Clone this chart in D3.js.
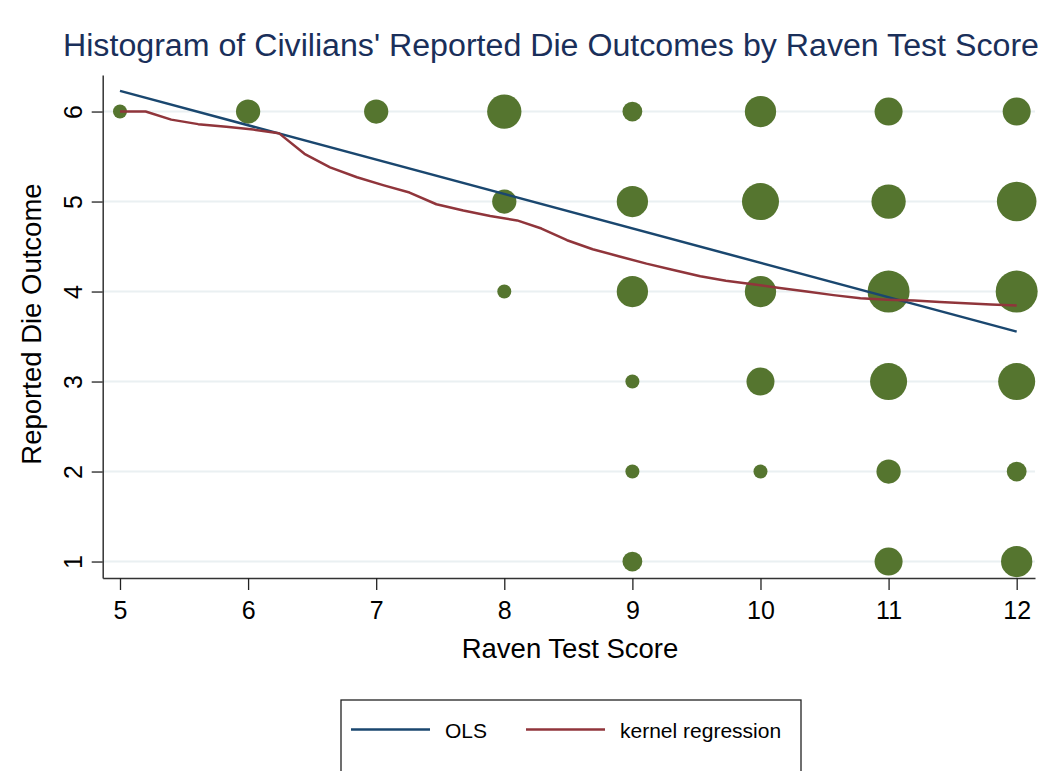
<!DOCTYPE html>
<html>
<head>
<meta charset="utf-8">
<script src="https://cdn.jsdelivr.net/npm/d3@7"></script>
<style>
  html, body { margin: 0; padding: 0; background: #ffffff; }
  svg { display: block; font-family: "Liberation Sans", Arial, sans-serif; }
</style>
</head>
<body>
<svg id="chart" width="1055" height="771"></svg>
<script>
// ---- Data ----
const ravenScores = [5, 6, 7, 8, 9, 10, 11, 12];
const dieOutcomes = [1, 2, 3, 4, 5, 6];
// frequency of each (raven score, die outcome) pair
const pointX = [5, 6, 7, 8, 9, 10, 11, 12,  8, 9, 10, 11, 12,  8, 9, 10, 11, 12,  9, 10, 11, 12,  9, 10, 11, 12,  9, 11, 12];
const pointY = [6, 6, 6, 6, 6, 6,  6,  6,   5, 5, 5,  5,  5,   4, 4, 4,  4,  4,   3, 3,  3,  3,   2, 2,  2,  2,   1, 1,  1];
const pointN = [1, 3, 3, 6, 2, 5,  4,  4,   3, 5, 7,  6,  8,   1, 5, 5,  9,  9,   1, 4,  7,  7,   1, 1,  3,  2,   2, 4,  5];
// OLS fitted line endpoints
const olsX = [5, 12];
const olsY = [6.23, 3.555];
// kernel regression curve
const kernX = [5.00, 5.20, 5.40, 5.61, 5.83, 6.04, 6.24, 6.44, 6.64, 6.85, 7.06, 7.26, 7.47, 7.68, 7.89, 8.10, 8.29, 8.49, 8.69, 8.90, 9.11, 9.32, 9.53, 9.73, 9.94, 10.15, 10.36, 10.57, 10.78, 10.99, 11.20, 11.40, 11.60, 11.80, 12.00];
const kernY = [6.00, 6.00, 5.91, 5.86, 5.83, 5.80, 5.76, 5.53, 5.38, 5.27, 5.18, 5.10, 4.97, 4.90, 4.84, 4.79, 4.70, 4.57, 4.47, 4.39, 4.31, 4.24, 4.17, 4.12, 4.08, 4.04, 4.00, 3.96, 3.925, 3.91, 3.90, 3.885, 3.87, 3.855, 3.845];
const xTicks = [5, 6, 7, 8, 9, 10, 11, 12];
const yTicks = [1, 2, 3, 4, 5, 6];
const titleText = "Histogram of Civilians' Reported Die Outcomes by Raven Test Score";
const xTitle = "Raven Test Score";
const yTitle = "Reported Die Outcome";
const legendLabels = ["OLS", "kernel regression"];

// ---- Styles ----
const cBlue = "#1a476f", cRed = "#90353b", cGreen = "#55752f", cGrid = "#eaf0f2", cTitle = "#1a2f5a";

const svg = d3.select("#chart");
const L = 102.7, R = 1035, T = 75, B = 578;

const x = d3.scaleLinear().domain([4.865, 12.143]).range([L, R]);
const y = d3.scaleLinear().domain([0.817, 6.406]).range([B, T]);
const r = d3.scaleSqrt().domain([0, 9]).range([0, 21]);

// grid
svg.append("g").selectAll("line").data(yTicks).join("line")
  .attr("x1", L).attr("x2", R)
  .attr("y1", d => y(d)).attr("y2", d => y(d))
  .attr("stroke", cGrid).attr("stroke-width", 2);

// points
const pts = pointX.map((v, i) => ({x: v, y: pointY[i], n: pointN[i]}));
svg.append("g").selectAll("circle").data(pts).join("circle")
  .attr("cx", d => x(d.x)).attr("cy", d => y(d.y)).attr("r", d => r(d.n))
  .attr("fill", cGreen);

// OLS line
const line = d3.line().x(d => x(d[0])).y(d => y(d[1]));
svg.append("path").datum(olsX.map((v, i) => [v, olsY[i]]))
  .attr("d", line).attr("fill", "none").attr("stroke", cBlue).attr("stroke-width", 2.5);
// kernel line
svg.append("path").datum(kernX.map((v, i) => [v, kernY[i]]))
  .attr("d", line).attr("fill", "none").attr("stroke", cRed).attr("stroke-width", 2.5)
  .attr("stroke-linejoin", "round");

// axes
const xAxis = svg.append("g").attr("transform", `translate(0,${B})`)
  .call(d3.axisBottom(x).tickValues(xTicks).tickSize(12).tickSizeOuter(0).tickPadding(11).tickFormat(d3.format("d")));
const yAxis = svg.append("g").attr("transform", `translate(${L},0)`)
  .call(d3.axisLeft(y).tickValues(yTicks).tickSize(11).tickSizeOuter(0).tickFormat(d3.format("d")));
[xAxis, yAxis].forEach(g => {
  g.select(".domain").attr("stroke", "#333").attr("stroke-width", 1.5);
  g.selectAll(".tick line").attr("stroke", "#222").attr("stroke-width", 1.3);
  g.selectAll(".tick text").attr("fill", "#000").attr("font-size", 25)
   .attr("font-family", "Liberation Sans, Arial, sans-serif");
});
yAxis.selectAll(".tick text")
  .attr("x", null)
  .attr("transform", "translate(-30,0) rotate(-90)")
  .attr("text-anchor", "middle").attr("dy", "0.36em");

// title
svg.append("text").attr("x", 551).attr("y", 56).attr("text-anchor", "middle")
  .attr("font-size", 31).attr("fill", cTitle)
  .attr("textLength", 976).attr("lengthAdjust", "spacingAndGlyphs")
  .text(titleText);

// axis titles
svg.append("text").attr("x", 570).attr("y", 658).attr("text-anchor", "middle")
  .attr("font-size", 27.5).attr("fill", "#000").text(xTitle);
svg.append("text").attr("transform", "translate(41,324) rotate(-90)")
  .attr("text-anchor", "middle").attr("font-size", 27.5).attr("fill", "#000").text(yTitle);

// legend
const lg = svg.append("g");
lg.append("rect").attr("x", 341).attr("y", 700).attr("width", 460).attr("height", 90)
  .attr("fill", "#fff").attr("stroke", "#222").attr("stroke-width", 1.3);
const legendColors = [cBlue, cRed];
const legendX = [351, 526];
legendLabels.forEach((lab, i) => {
  lg.append("line").attr("x1", legendX[i]).attr("x2", legendX[i] + 79)
    .attr("y1", 729.5).attr("y2", 729.5).attr("stroke", legendColors[i]).attr("stroke-width", 2.5);
  lg.append("text").attr("x", legendX[i] + 94).attr("y", 738).attr("font-size", 21)
    .attr("fill", "#000").text(lab);
});
</script>
</body>
</html>
